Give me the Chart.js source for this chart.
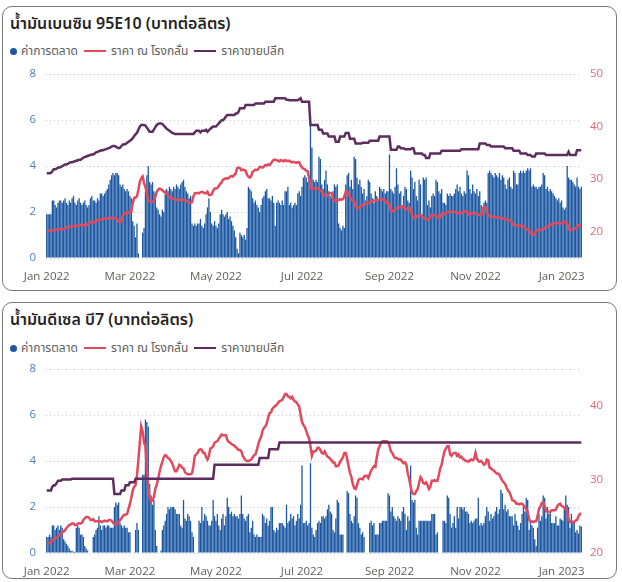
<!DOCTYPE html>
<html>
<head>
<meta charset="utf-8">
<script src="https://cdn.jsdelivr.net/npm/chart.js@4.4.1/dist/chart.umd.min.js"></script>
<style>
  body { margin:0; background:#fff; width:622px; height:582px; position:relative; overflow:hidden;
         font-family: "Noto Sans Thai", "Leelawadee UI", Tahoma, "DejaVu Sans", "Open Sans", sans-serif; }
  .card { position:absolute; left:2px; width:615px; border:1.5px solid #7a7876; border-radius:10px; box-sizing:border-box; }
  .title { position:absolute; left:10px; font-size:16px; font-weight:600; color:#252423; white-space:nowrap; }
  .legend { position:absolute; left:10px; font-size:12px; color:#605e5c; display:flex; align-items:center; white-space:nowrap; }
  .dot { width:7px; height:7px; border-radius:50%; background:#1c58a2; margin-right:4px; }
  .ln { width:22px; height:2px; margin:0 5px 0 6px; }
  canvas { position:absolute; left:3px; }
</style>
</head>
<body>
<div class="card" style="top:6px;height:285px"></div>
<div class="title" style="top:12px">น้ำมันเบนซิน 95E10 (บาทต่อลิตร)</div>
<div class="legend" style="top:42px"><span class="dot"></span>ค่าการตลาด<span class="ln" style="background:#e04a5c"></span>ราคา ณ โรงกลั่น<span class="ln" style="background:#5c2d5e"></span>ราคาขายปลีก</div>
<canvas id="gas" width="615" height="218" style="top:64px"></canvas>

<div class="card" style="top:302px;height:277px"></div>
<div class="title" style="top:308px">น้ำมันดีเซล บี7 (บาทต่อลิตร)</div>
<div class="legend" style="top:339px"><span class="dot"></span>ค่าการตลาด<span class="ln" style="background:#e04a5c"></span>ราคา ณ โรงกลั่น<span class="ln" style="background:#5c2d5e"></span>ราคาขายปลีก</div>
<canvas id="diesel" width="615" height="218" style="top:359px"></canvas>

<script>
// daily values, 1 Jan 2022 .. 15 Jan 2023
const startDate = '2022-01-01';
const dayCount = 380;
const tickDates = ['2022-01-01','2022-03-01','2022-05-01','2022-07-01','2022-09-01','2022-11-01','2023-01-01'];
const tickLabels = ['Jan 2022','Mar 2022','May 2022','Jul 2022','Sep 2022','Nov 2022','Jan 2023'];

// 95E10 - marketing margin (left axis)
const marginA = [
1.9,1.9,1.9,1.9,2.5,2.5,2.3,2.2,2.4,2.5,
2.5,2.4,2.5,2.6,2.4,2.3,2.5,2.4,2.6,2.7,
2.4,2.3,2.5,2.6,2.4,2.3,2.4,2.5,2.3,2.2,
2.3,2.6,2.7,2.5,2.5,2.4,2.6,2.5,2.8,2.8,
2.7,2.8,2.9,3.0,3.2,3.4,3.6,3.7,3.6,3.7,
3.7,3.6,3.2,3.1,3.2,3.0,2.9,3.0,2.9,2.7,
2.6,1.6,1.4,0.9,1.5,0.2,0,0,1.1,1.3,
2.9,3.6,4.0,3.3,3.2,3.3,2.9,2.8,2.2,2.1,
1.9,1.8,2.1,2.0,2.9,3.0,2.9,3.1,3.0,2.9,
3.1,3.0,3.2,3.1,3.0,3.2,3.3,3.4,3.1,2.9,
2.8,2.6,2.7,1.5,1.4,1.5,1.4,1.5,1.5,1.7,
1.4,1.3,1.5,1.9,2.2,2.6,2.0,1.5,1.4,1.6,
1.4,1.3,1.5,1.9,2.1,1.9,1.8,1.9,2.0,1.7,
1.8,1.6,1.4,1.2,0.9,0.4,0.2,1.1,1.0,0.9,
1.0,0.8,1.3,3.1,3.0,2.9,2.6,2.4,2.5,2.3,
2.2,2.0,2.3,2.6,2.7,2.9,3.0,2.6,2.6,2.5,
2.7,2.4,1.4,2.4,2.5,2.4,2.3,2.5,2.3,2.9,
2.9,3.1,2.3,2.4,2.2,2.3,2.4,2.3,2.8,2.9,
2.7,3.1,3.5,3.6,3.5,3.3,3.6,5.8,4.8,3.4,
3.3,3.4,3.3,4.4,4.3,3.2,3.0,3.4,3.8,3.2,
2.9,2.7,2.6,2.9,3.2,3.1,3.2,1.5,1.3,1.2,
1.4,1.3,3.2,3.6,3.7,3.1,3.4,3.0,4.4,4.3,
3.5,3.2,3.4,3.1,2.8,3.0,2.5,2.7,3.4,3.3,
2.8,2.6,2.4,2.9,2.7,2.5,3.1,3.0,2.9,3.0,
2.8,2.9,2.9,4.5,3.0,2.9,2.8,3.1,3.9,3.2,
2.8,2.9,2.3,2.7,3.1,3.0,2.5,2.4,3.8,3.5,
3.0,3.3,2.7,2.5,3.4,3.2,1.9,3.5,3.4,3.5,
2.3,2.5,2.2,2.7,2.8,2.7,3.4,3.3,2.9,2.8,
3.0,2.4,2.4,2.3,2.8,2.7,2.8,2.7,2.7,2.8,
3.0,3.2,2.9,3.1,2.8,2.7,2.9,2.8,3.8,3.6,
3.0,2.8,3.2,2.9,2.8,3.0,2.7,2.9,2.3,2.2,
2.4,2.5,2.4,3.7,3.8,3.7,3.6,3.5,3.7,3.6,
3.5,3.7,3.4,3.6,3.5,3.2,3.0,3.4,3.5,3.1,
3.0,3.8,3.7,3.2,3.2,3.7,3.8,3.7,3.8,3.7,
3.8,3.9,3.8,3.9,3.1,3.2,3.1,3.1,3.0,3.1,
3.1,3.2,3.7,3.6,3.0,3.1,2.9,3.0,2.9,2.8,
2.7,2.6,2.5,2.6,2.4,2.5,2.2,2.1,2.2,4.0,
3.5,3.4,3.4,3.3,3.2,3.1,3.5,3.1,3.0,3.1
];

// 95E10 - refinery price (right axis)
const refineryA = [
20.2,20.2,20.2,20.2,20.3,20.3,20.3,20.4,20.4,20.5,
20.5,20.5,20.5,20.6,20.8,20.9,20.9,21.0,21.1,21.1,
21.0,21.1,21.2,21.2,21.3,21.2,21.2,21.3,21.2,21.4,
21.6,21.8,21.8,21.9,21.8,22.0,22.2,22.3,22.3,22.4,
22.4,22.5,22.4,22.5,22.6,22.6,22.6,22.7,22.6,22.6,
22.3,21.9,21.8,22.2,23.0,23.5,23.6,23.7,23.6,23.7,
23.8,25.5,26.4,26.5,26.7,28.0,29.5,30.2,30.5,29.3,
28.5,27.2,26.0,25.8,25.8,25.7,25.9,26.6,27.6,28.0,
28.2,28.1,27.9,27.6,27.6,27.2,26.9,26.6,26.4,26.4,
26.3,26.2,26.1,26.1,26.1,26.0,26.1,26.0,26.1,25.9,
25.6,25.5,25.5,25.6,26.7,27.3,27.3,27.4,27.3,27.5,
27.6,27.5,27.3,27.3,27.6,27.0,27.0,27.1,27.8,28.2,
28.2,28.3,28.7,29.1,29.4,29.9,30.0,30.2,30.1,30.2,
30.5,30.6,30.5,30.8,31.1,32.1,32.2,32.1,31.7,31.8,
31.7,31.6,30.8,30.5,30.3,30.6,31.4,31.6,31.8,31.7,
31.9,32.3,32.3,32.2,32.4,32.7,32.6,32.8,32.7,33.0,
33.4,33.7,33.7,33.6,33.5,33.4,33.6,33.5,33.4,33.6,
33.5,33.4,33.5,33.3,33.2,33.3,33.2,33.1,33.2,33.2,
32.6,32.2,32.0,31.9,31.6,31.5,30.2,28.8,28.0,28.2,
28.2,28.3,28.2,28.1,27.8,27.6,27.2,26.9,26.8,26.8,
27.2,27.4,27.3,26.3,25.8,25.9,26.1,26.0,26.2,26.1,
26.2,26.7,27.6,27.7,27.4,26.6,26.1,26.0,25.7,24.8,
24.5,24.5,24.6,24.9,25.1,25.1,25.3,25.5,25.4,25.6,
25.9,25.8,25.9,26.0,25.9,26.1,26.1,26.2,26.1,26.2,
25.7,25.5,25.6,25.1,23.9,23.9,24.0,24.4,24.5,24.5,
24.6,24.8,24.8,24.8,24.3,24.2,24.5,24.5,24.5,23.2,
22.6,22.6,22.7,23.1,23.2,23.2,22.9,22.6,22.6,22.3,
22.3,22.3,23.0,23.2,23.2,23.1,23.2,22.8,22.6,22.7,
23.4,23.5,23.4,23.5,23.8,23.8,23.8,23.7,23.8,23.8,
23.8,23.6,23.5,23.5,23.5,23.8,23.8,23.9,23.8,23.3,
23.2,23.5,23.5,23.5,23.5,23.4,23.2,23.2,23.2,24.2,
24.8,24.6,23.6,23.2,22.9,22.9,22.9,22.8,22.8,22.7,
22.7,22.7,22.6,22.6,22.5,22.3,22.3,22.3,22.2,22.1,
21.6,21.3,21.3,21.2,21.2,21.2,21.1,21.2,21.0,20.7,
20.4,20.4,20.2,19.8,19.5,19.4,19.6,20.2,20.4,20.4,
20.3,20.4,20.5,20.7,20.9,21.0,21.1,21.2,21.4,21.6,
21.6,21.5,21.6,21.7,21.6,21.6,21.7,21.9,21.9,21.6,
20.4,20.4,20.4,20.4,20.5,20.6,21.0,21.2,21.3,21.3
];

// 95E10 - retail price (right axis)
const retailA = [
31.1,31.1,31.1,31.2,31.5,31.9,31.9,32.0,32.2,32.2,
32.3,32.5,32.6,32.8,32.8,32.9,33.1,33.2,33.2,33.3,
33.4,33.5,33.6,33.7,33.7,33.9,34.1,34.2,34.3,34.4,
34.5,34.6,34.7,34.7,34.9,35.1,35.2,35.3,35.4,35.5,
35.5,35.6,35.7,35.8,35.9,36.0,36.2,36.3,36.3,36.2,
36.0,35.9,36.0,36.3,36.6,36.6,36.7,36.9,37.1,37.3,
37.5,37.8,38.2,38.5,38.8,39.4,40.0,40.3,40.3,40.3,
40.2,39.8,39.4,39.0,39.0,39.0,39.4,39.9,40.3,40.5,
40.6,40.6,40.5,40.2,39.9,39.6,39.4,39.2,39.0,38.8,
38.7,38.6,38.6,38.6,38.6,38.6,38.6,38.6,38.6,38.6,
38.6,38.6,38.6,38.6,38.6,38.9,39.2,39.2,39.2,38.9,
39.2,39.2,39.2,39.4,39.0,39.3,39.6,39.8,40.0,40.0,
40.0,40.3,40.6,40.9,41.2,41.2,41.5,41.9,42.2,42.2,
42.2,42.2,42.2,42.2,42.5,42.5,42.8,43.5,43.5,43.5,
43.5,44.1,44.1,44.1,44.1,44.1,44.1,44.1,44.4,44.4,
44.4,44.4,44.4,44.4,44.4,44.7,44.7,44.7,44.7,44.7,
44.7,44.7,45.4,45.4,45.4,45.4,45.4,45.4,45.4,45.4,
45.1,45.1,45.0,45.0,45.0,45.0,45.0,45.0,45.0,45.2,
45.4,44.7,44.7,44.7,44.7,44.7,44.7,40.3,40.3,40.3,
40.3,40.3,40.3,39.4,39.4,39.4,38.7,38.7,38.7,38.7,
38.1,38.1,38.1,38.1,38.1,37.1,37.1,37.1,38.1,38.1,
38.1,38.1,38.8,38.8,38.8,37.7,37.7,37.7,37.7,36.8,
36.8,36.8,36.8,36.8,36.9,36.9,36.9,36.9,36.9,37.3,
37.3,37.3,37.3,37.3,37.3,37.3,38.1,38.1,38.1,38.1,
38.1,38.1,38.1,38.1,35.6,35.6,35.6,35.6,35.6,36.2,
36.2,35.9,35.9,35.9,35.7,35.7,35.7,35.7,35.7,35.9,
35.9,34.9,34.9,34.9,34.9,34.9,34.9,34.6,34.6,34.0,
34.0,34.0,34.9,34.9,34.9,34.9,34.9,34.9,34.9,34.9,
35.4,35.4,35.4,35.4,35.4,35.4,35.4,35.4,35.4,35.4,
35.4,35.4,35.4,35.4,35.7,35.7,35.7,35.7,35.7,35.7,
35.7,35.7,35.7,35.7,35.7,35.7,35.7,36.8,36.8,36.8,
36.8,36.8,36.5,36.5,36.5,36.2,36.2,36.2,36.2,36.2,
36.2,36.2,36.2,36.2,36.2,35.9,35.9,35.9,35.9,35.9,
35.9,35.4,35.4,35.4,35.4,35.4,34.9,34.9,34.9,34.9,
34.9,34.6,34.6,34.6,34.3,34.3,34.3,34.9,34.9,34.9,
34.9,34.9,34.9,34.9,34.6,34.6,34.6,34.6,34.6,34.6,
34.6,34.6,34.6,34.6,34.6,34.6,34.6,34.6,34.6,34.6,
35.2,34.6,34.6,34.6,34.6,34.6,35.5,35.5,35.5,35.5
];

// B7 diesel - marketing margin (left axis)
const marginB = [
0.7,0.7,0.8,0.7,1.2,1.2,1.0,1.1,1.2,1.0,
1.2,1.1,0.6,0.5,0.4,0.3,0.2,0.1,0.1,0.05,
0.05,1.1,1.2,1.1,0.8,0.8,0.7,0.3,0.2,0.1,
0,0,0,0.7,0.8,1.0,1.1,1.6,1.2,1.0,
1.2,1.2,1.1,1.2,1.2,1.1,1.1,1.1,2.0,2.2,
2.1,2.2,1.3,1.2,1.1,1.2,1.1,1.1,0.9,0.9,
0,0,0,1.0,1.3,1.0,0,0,3.4,3.4,
5.8,5.7,5.5,3.0,2.5,2.1,2.3,1.0,0.3,0,
0,0.1,1.0,1.2,1.4,1.7,2.0,1.9,2.0,2.0,
2.0,1.9,1.7,1.7,1.7,1.2,1.1,2.3,1.5,1.4,
1.7,1.6,1.4,0.9,0.7,0,0,0,1.4,1.3,
2.0,1.4,1.7,1.6,1.4,1.2,1.2,1.4,2.3,1.6,
1.4,1.7,1.2,1.0,1.5,1.7,1.2,1.6,2.4,2.0,
1.7,1.8,1.6,1.7,1.6,1.6,1.5,1.7,2.5,1.7,
1.5,1.4,1.6,1.7,0.9,1.1,1.4,0.8,0.7,0.8,
0.7,0.7,0.7,1.7,1.6,1.3,1.5,1.2,1.4,2.0,
2.0,1.0,0.9,1.1,1.0,1.3,1.3,1.3,1.2,1.1,
2.1,1.3,1.4,1.7,1.5,1.6,1.2,1.4,1.7,1.5,
2.1,3.8,1.3,1.3,1.4,1.2,1.3,3.9,1.1,0.8,
0.7,1.0,1.3,1.4,1.3,1.6,1.6,1.5,1.6,1.9,
2.1,1.8,1.7,1.0,0.9,1.5,2.3,2.2,0.8,0.8,
0.8,0,0,2.7,2.6,1.7,1.4,1.3,1.6,2.5,
2.4,1.3,1.1,0.8,0.9,0.7,0,0,0,1.3,
1.4,1.2,1.3,0.8,0.8,0.8,1.3,1.3,1.4,1.4,
1.4,1.4,2.6,2.5,1.8,2.0,1.6,1.5,1.4,1.6,
1.5,1.4,1.8,2.0,1.7,1.0,1.6,1.4,3.8,2.3,
2.2,2.3,1.1,0.8,1.4,1.4,1.4,1.4,1.4,1.4,
1.4,1.4,1.4,1.7,1.7,1.7,0.8,0.9,0,0,
0,1.4,1.4,1.3,2.5,2.4,1.7,1.1,1.3,1.6,
1.1,2.0,1.5,2.0,2.0,1.9,2.0,1.8,1.8,1.7,
1.3,1.4,1.3,1.4,1.5,1.5,2.4,1.2,1.3,1.2,
1.3,1.6,2.0,1.8,1.4,1.7,1.5,1.6,1.8,2.0,
1.7,1.9,2.75,2.6,1.9,2.1,1.8,1.9,1.6,1.6,
1.6,1.2,1.7,1.4,1.2,1.0,1.3,1.7,2.0,1.8,
2.4,2.3,1.0,1.3,1.2,1.1,0.6,0.3,1.1,1.7,
1.4,1.6,2.5,2.4,1.5,2.0,1.7,1.8,1.3,1.3,
1.3,1.6,1.2,1.2,1.5,1.45,1.4,2.0,2.5,2.1,
2.0,1.1,1.7,1.4,1.3,0.9,1.0,0.85,1.2,1.15
];

// B7 diesel - refinery price (right axis)
const refineryB = [
21.3,21.3,21.3,21.4,21.8,21.9,22.0,22.1,22.2,22.4,
22.7,22.8,22.9,23.1,23.4,23.6,23.8,23.9,24.0,24.0,
23.8,23.8,24.0,24.0,24.0,24.1,24.5,24.7,24.9,24.9,
24.8,24.5,24.5,24.6,24.3,24.3,24.3,24.3,24.3,24.2,
24.3,24.4,24.3,24.3,24.5,24.5,24.4,24.1,24.0,23.9,
23.9,24.1,24.5,24.7,25.0,25.2,25.2,25.3,26.0,26.7,
27.5,28.5,29.0,29.2,30.5,32.7,35.0,37.2,36.5,35.0,
34.5,31.4,29.0,27.5,27.0,27.2,27.6,28.7,29.3,30.1,
31.0,31.8,32.4,33.0,33.3,33.2,32.9,32.8,32.5,32.2,
31.6,31.1,31.1,31.5,32.0,31.9,31.6,31.5,31.0,30.8,
30.7,30.7,30.7,30.8,31.8,33.2,33.4,33.6,34.0,34.1,
34.0,33.6,33.6,33.0,32.7,33.2,34.2,34.3,34.5,35.0,
35.1,35.2,35.5,35.8,36.1,36.0,36.0,36.0,35.4,35.1,
35.0,34.8,34.7,34.6,34.4,34.2,34.0,34.0,33.8,33.2,
32.9,32.6,32.5,32.5,32.6,32.7,33.0,33.3,33.4,34.0,
34.8,35.4,35.8,36.6,37.0,37.2,37.6,38.4,39.0,39.1,
39.6,39.8,40.0,40.1,40.4,40.6,40.7,40.8,41.2,41.6,
41.6,41.3,41.2,41.0,41.2,40.8,40.6,40.5,40.2,39.9,
38.8,37.8,37.4,37.1,36.6,36.0,35.6,34.5,33.2,33.8,
33.8,33.9,34.3,34.3,34.0,33.6,33.5,33.8,33.4,33.1,
33.0,32.8,32.6,32.3,32.3,31.8,31.8,31.9,32.4,32.7,
33.0,33.6,33.6,32.8,31.8,30.9,30.3,29.4,28.8,28.7,
29.2,29.9,30.1,30.1,30.0,30.4,30.5,30.5,30.2,30.7,
31.2,31.5,31.8,31.7,33.0,34.0,34.5,35.0,35.2,35.2,
35.2,35.2,35.1,34.6,33.8,33.6,33.2,32.9,32.9,32.8,
32.7,32.7,32.4,32.2,32.3,32.0,30.8,30.1,29.0,28.2,
28.0,28.0,28.4,28.7,29.5,30.3,30.0,29.5,29.4,29.6,
29.2,28.7,29.0,29.8,29.8,29.9,29.8,29.8,30.6,31.5,
32.0,33.0,33.8,34.2,34.5,34.5,33.4,33.2,33.5,33.6,
33.6,33.2,33.4,33.0,33.1,32.8,32.7,32.5,32.5,32.4,
32.6,32.7,32.6,32.8,33.6,32.8,32.5,32.4,32.5,32.3,
32.0,32.1,32.7,32.6,31.6,31.5,31.3,31.2,31.0,30.8,
30.8,30.6,30.2,29.8,29.6,29.4,28.9,28.5,28.3,27.8,
27.2,27.1,27.0,26.7,26.7,26.6,26.7,26.7,26.5,26.2,
26.0,25.6,24.6,24.2,24.3,24.2,24.3,24.3,25.0,26.0,
26.3,26.8,26.9,26.4,25.7,25.6,25.6,25.6,25.8,25.8,
25.8,25.9,26.4,26.6,26.7,26.4,26.3,26.1,26.0,25.8,
24.6,24.2,24.2,24.2,24.2,24.4,24.5,25.0,25.3,25.4
];

// B7 diesel - retail price (right axis)
const retailB = [
28.5,28.5,28.5,28.5,29.0,29.2,29.2,29.5,29.8,29.8,
29.8,30.0,30.0,30.0,30.0,30.0,30.0,30.0,30.1,30.1,
30.1,30.1,30.1,30.1,30.1,30.1,30.1,30.1,30.1,30.1,
30.1,30.1,30.1,30.1,30.1,30.1,30.1,30.1,30.1,30.1,
30.1,30.1,30.1,30.1,30.1,30.1,30.1,30.1,28.0,28.0,
28.0,28.0,28.0,28.5,28.5,28.5,29.2,29.2,29.2,29.6,
29.6,29.6,29.6,30.1,30.1,30.1,30.1,30.1,30.1,30.1,
30.1,30.1,30.1,30.1,30.1,30.1,30.1,30.1,30.1,30.1,
30.1,30.1,30.1,30.1,30.1,30.1,30.1,30.1,30.1,30.1,
30.1,30.1,30.1,30.1,30.1,30.1,30.1,30.1,30.1,30.1,
30.1,30.1,30.1,30.1,30.1,30.1,30.1,30.1,30.1,30.1,
30.1,30.1,30.1,30.1,30.1,30.1,30.1,30.1,30.1,32.0,
32,32,32,32,32,32,32,32,32,32,
32,32,32,32,32,32,32,32,32,32,
32,32,32,32,32,32,32,32,32,32,
32.0,32.9,32.9,32.9,32.9,32.9,32.9,32.9,34.1,34.1,
34.1,34.1,34.1,34.1,34.1,35,35,35,35,35,
35,35,35,35,35,35,35,35,35,35,
35,35,35,35,35,35,35,35,35,35,
35,35,35,35,35,35,35,35,35,35,
35,35,35,35,35,35,35,35,35,35,
35,35,35,35,35,35,35,35,35,35,
35,35,35,35,35,35,35,35,35,35,
35,35,35,35,35,35,35,35,35,35,
35,35,35,35,35,35,35,35,35,35,
35,35,35,35,35,35,35,35,35,35,
35,35,35,35,35,35,35,35,35,35,
35,35,35,35,35,35,35,35,35,35,
35,35,35,35,35,35,35,35,35,35,
35,35,35,35,35,35,35,35,35,35,
35,35,35,35,35,35,35,35,35,35,
35,35,35,35,35,35,35,35,35,35,
35,35,35,35,35,35,35,35,35,35,
35,35,35,35,35,35,35,35,35,35,
35,35,35,35,35,35,35,35,35,35,
35,35,35,35,35,35,35,35,35,35,
35,35,35,35,35,35,35,35,35,35,
35,35,35,35,35,35,35,35,35,35
];

// category labels = one per day
const days = [];
let d0 = new Date(startDate + 'T00:00:00Z');
for (let i = 0; i < dayCount; i++) {
  days.push(new Date(d0.getTime() + i * 86400000).toISOString().slice(0, 10));
}

Chart.defaults.font.family = "'Open Sans', sans-serif";
Chart.defaults.font.size = 11.5;
Chart.defaults.animation = false;

function makeChart(id, margin, refinery, retail, rMin, rMax, rTicks) {
  const ctx = document.getElementById(id).getContext('2d');
  return new Chart(ctx, {
    type: 'bar',
    data: {
      labels: days,
      datasets: [
        { type: 'line', label: 'ราคาขายปลีก', data: retail, yAxisID: 'y1', order: 1,
          borderColor: '#5c2d5e', borderWidth: 2.5, pointRadius: 0, tension: 0 },
        { type: 'line', label: 'ราคา ณ โรงกลั่น', data: refinery, yAxisID: 'y1', order: 2,
          borderColor: '#e04a5c', borderWidth: 2.5, pointRadius: 0, tension: 0 },
        { label: 'ค่าการตลาด', data: margin, yAxisID: 'y', order: 3,
          backgroundColor: '#1c58a2', barPercentage: 1, categoryPercentage: 0.92 }
      ]
    },
    options: {
      responsive: false,
      devicePixelRatio: 1,
      layout: { padding: { top: 10 } },
      plugins: { legend: { display: false }, tooltip: { enabled: false } },
      scales: {
        x: {
          grid: { display: false },
          border: { display: false },
          afterFit: (s) => { s.height = 24; },
          afterBuildTicks: (s) => { s.ticks = tickDates.map(t => ({ value: days.indexOf(t) })); },
          ticks: {
            autoSkip: false, maxRotation: 0, minRotation: 0, padding: 4, color: '#605e5c',
            callback: (v) => tickLabels[tickDates.indexOf(days[v])]
          }
        },
        y: {
          position: 'left', min: 0, max: 8,
          afterFit: (s) => { s.width = 43; },
          ticks: { stepSize: 2, padding: 0, color: '#4f80c0' },
          // tick marks kept only as spacing for the labels
          grid: { color: '#c8c6c4', lineWidth: 1, drawTicks: true, tickLength: 10, tickColor: 'rgba(0,0,0,0)' },
          border: { display: false, dash: [1, 3] }
        },
        y1: {
          position: 'right', min: rMin, max: rMax,
          afterFit: (s) => { s.width = 36; },
          afterBuildTicks: (s) => { s.ticks = rTicks.map(v => ({ value: v })); },
          ticks: { padding: 0, color: '#e06a78' },
          grid: { drawOnChartArea: false, drawTicks: true, tickLength: 8, tickColor: 'rgba(0,0,0,0)' },
          border: { display: false }
        }
      }
    }
  });
}

makeChart('gas', marginA, refineryA, retailA, 15, 50, [20, 30, 40, 50]);
makeChart('diesel', marginB, refineryB, retailB, 20, 45, [20, 30, 40]);
</script>
</body>
</html>
